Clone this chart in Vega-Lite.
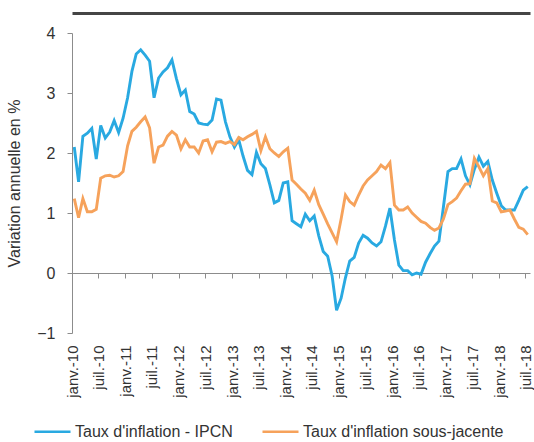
{
  "$schema": "https://vega.github.io/schema/vega-lite/v6.json",
  "width": 458,
  "height": 300,
  "autosize": "none",
  "padding": {"left": 72, "top": 33, "right": 4, "bottom": 109},
  "background": "white",
  "config": {"view": {"stroke": null}, "font": "Liberation Sans"},
  "data": {"values": [
    {"month": "2010-01", "ipcn": 2.10, "sj": 1.24},
    {"month": "2010-02", "ipcn": 1.52, "sj": 0.92},
    {"month": "2010-03", "ipcn": 2.28, "sj": 1.24},
    {"month": "2010-04", "ipcn": 2.33, "sj": 1.02},
    {"month": "2010-05", "ipcn": 2.41, "sj": 1.02},
    {"month": "2010-06", "ipcn": 1.90, "sj": 1.06},
    {"month": "2010-07", "ipcn": 2.46, "sj": 1.58},
    {"month": "2010-08", "ipcn": 2.25, "sj": 1.62},
    {"month": "2010-09", "ipcn": 2.35, "sj": 1.63},
    {"month": "2010-10", "ipcn": 2.54, "sj": 1.60},
    {"month": "2010-11", "ipcn": 2.34, "sj": 1.62},
    {"month": "2010-12", "ipcn": 2.58, "sj": 1.69},
    {"month": "2011-01", "ipcn": 2.92, "sj": 2.12},
    {"month": "2011-02", "ipcn": 3.36, "sj": 2.36},
    {"month": "2011-03", "ipcn": 3.65, "sj": 2.43},
    {"month": "2011-04", "ipcn": 3.72, "sj": 2.52},
    {"month": "2011-05", "ipcn": 3.63, "sj": 2.60},
    {"month": "2011-06", "ipcn": 3.53, "sj": 2.42},
    {"month": "2011-07", "ipcn": 2.92, "sj": 1.83},
    {"month": "2011-08", "ipcn": 3.25, "sj": 2.10},
    {"month": "2011-09", "ipcn": 3.35, "sj": 2.13},
    {"month": "2011-10", "ipcn": 3.42, "sj": 2.28},
    {"month": "2011-11", "ipcn": 3.55, "sj": 2.36},
    {"month": "2011-12", "ipcn": 3.24, "sj": 2.30},
    {"month": "2012-01", "ipcn": 2.97, "sj": 2.07},
    {"month": "2012-02", "ipcn": 3.05, "sj": 2.22},
    {"month": "2012-03", "ipcn": 2.69, "sj": 2.10},
    {"month": "2012-04", "ipcn": 2.65, "sj": 2.10},
    {"month": "2012-05", "ipcn": 2.50, "sj": 2.00},
    {"month": "2012-06", "ipcn": 2.48, "sj": 2.20},
    {"month": "2012-07", "ipcn": 2.47, "sj": 2.22},
    {"month": "2012-08", "ipcn": 2.55, "sj": 2.02},
    {"month": "2012-09", "ipcn": 2.90, "sj": 2.18},
    {"month": "2012-10", "ipcn": 2.88, "sj": 2.19},
    {"month": "2012-11", "ipcn": 2.52, "sj": 2.16},
    {"month": "2012-12", "ipcn": 2.27, "sj": 2.19},
    {"month": "2013-01", "ipcn": 2.10, "sj": 2.14},
    {"month": "2013-02", "ipcn": 2.22, "sj": 2.26},
    {"month": "2013-03", "ipcn": 1.95, "sj": 2.22},
    {"month": "2013-04", "ipcn": 1.71, "sj": 2.27},
    {"month": "2013-05", "ipcn": 1.64, "sj": 2.31},
    {"month": "2013-06", "ipcn": 2.01, "sj": 2.36},
    {"month": "2013-07", "ipcn": 1.82, "sj": 2.04},
    {"month": "2013-08", "ipcn": 1.74, "sj": 2.27},
    {"month": "2013-09", "ipcn": 1.47, "sj": 2.07},
    {"month": "2013-10", "ipcn": 1.17, "sj": 2.00},
    {"month": "2013-11", "ipcn": 1.21, "sj": 1.94},
    {"month": "2013-12", "ipcn": 1.50, "sj": 2.02},
    {"month": "2014-01", "ipcn": 1.52, "sj": 2.08},
    {"month": "2014-02", "ipcn": 0.87, "sj": 1.55},
    {"month": "2014-03", "ipcn": 0.82, "sj": 1.48},
    {"month": "2014-04", "ipcn": 0.77, "sj": 1.40},
    {"month": "2014-05", "ipcn": 0.98, "sj": 1.33},
    {"month": "2014-06", "ipcn": 0.87, "sj": 1.21},
    {"month": "2014-07", "ipcn": 0.95, "sj": 1.38},
    {"month": "2014-08", "ipcn": 0.62, "sj": 1.14},
    {"month": "2014-09", "ipcn": 0.36, "sj": 0.98},
    {"month": "2014-10", "ipcn": 0.28, "sj": 0.82},
    {"month": "2014-11", "ipcn": -0.05, "sj": 0.67},
    {"month": "2014-12", "ipcn": -0.62, "sj": 0.52},
    {"month": "2015-01", "ipcn": -0.42, "sj": 0.90},
    {"month": "2015-02", "ipcn": -0.08, "sj": 1.30},
    {"month": "2015-03", "ipcn": 0.20, "sj": 1.19},
    {"month": "2015-04", "ipcn": 0.26, "sj": 1.13},
    {"month": "2015-05", "ipcn": 0.50, "sj": 1.30},
    {"month": "2015-06", "ipcn": 0.63, "sj": 1.45},
    {"month": "2015-07", "ipcn": 0.58, "sj": 1.55},
    {"month": "2015-08", "ipcn": 0.50, "sj": 1.62},
    {"month": "2015-09", "ipcn": 0.45, "sj": 1.69},
    {"month": "2015-10", "ipcn": 0.52, "sj": 1.80},
    {"month": "2015-11", "ipcn": 0.78, "sj": 1.74},
    {"month": "2015-12", "ipcn": 1.08, "sj": 1.84},
    {"month": "2016-01", "ipcn": 0.55, "sj": 1.13},
    {"month": "2016-02", "ipcn": 0.13, "sj": 1.05},
    {"month": "2016-03", "ipcn": 0.04, "sj": 1.05},
    {"month": "2016-04", "ipcn": 0.04, "sj": 1.10},
    {"month": "2016-05", "ipcn": -0.03, "sj": 1.00},
    {"month": "2016-06", "ipcn": 0.00, "sj": 0.93},
    {"month": "2016-07", "ipcn": -0.02, "sj": 0.86},
    {"month": "2016-08", "ipcn": 0.18, "sj": 0.83},
    {"month": "2016-09", "ipcn": 0.32, "sj": 0.76},
    {"month": "2016-10", "ipcn": 0.45, "sj": 0.71},
    {"month": "2016-11", "ipcn": 0.53, "sj": 0.75},
    {"month": "2016-12", "ipcn": 1.10, "sj": 0.90},
    {"month": "2017-01", "ipcn": 1.69, "sj": 1.14},
    {"month": "2017-02", "ipcn": 1.74, "sj": 1.19},
    {"month": "2017-03", "ipcn": 1.74, "sj": 1.25},
    {"month": "2017-04", "ipcn": 1.90, "sj": 1.37},
    {"month": "2017-05", "ipcn": 1.62, "sj": 1.48},
    {"month": "2017-06", "ipcn": 1.47, "sj": 1.49},
    {"month": "2017-07", "ipcn": 1.73, "sj": 1.91},
    {"month": "2017-08", "ipcn": 1.93, "sj": 1.77},
    {"month": "2017-09", "ipcn": 1.78, "sj": 1.62},
    {"month": "2017-10", "ipcn": 1.86, "sj": 1.74},
    {"month": "2017-11", "ipcn": 1.55, "sj": 1.20},
    {"month": "2017-12", "ipcn": 1.33, "sj": 1.17},
    {"month": "2018-01", "ipcn": 1.12, "sj": 1.02},
    {"month": "2018-02", "ipcn": 1.05, "sj": 1.03},
    {"month": "2018-03", "ipcn": 1.05, "sj": 1.05},
    {"month": "2018-04", "ipcn": 1.05, "sj": 0.90},
    {"month": "2018-05", "ipcn": 1.21, "sj": 0.76},
    {"month": "2018-06", "ipcn": 1.38, "sj": 0.73},
    {"month": "2018-07", "ipcn": 1.44, "sj": 0.64}
  ]},
  "resolve": {"axis": {"x": "independent"}},
  "layer": [
    {
      "mark": {"type": "line", "strokeWidth": 2.9},
      "encoding": {
        "x": {
          "field": "month", "type": "temporal", "timeUnit": "utcyearmonth", "bandPosition": 0.5,
          "scale": {"type": "utc", "nice": false, "domain": [{"year": 2010, "month": 1, "date": 1, "utc": true}, {"year": 2018, "month": 8, "date": 1, "utc": true}]},
          "axis": {
            "orient": "bottom", "offset": -60, "title": null, "grid": false,
            "domainColor": "#8c8c8c", "tickColor": "#8c8c8c", "tickSize": 5,
            "tickCount": {"interval": "month", "step": 6},
            "labelExpr": "(utcmonth(datum.value) == 0 ? 'janv.-' : 'juil.-') + utcFormat(datum.value, '%y')",
            "labelAngle": -90, "labelAlign": "right", "labelBaseline": "middle",
            "labelPadding": 67, "labelFontSize": 15, "labelColor": "#333333",
            "labelOverlap": false, "labelFlush": false
          }
        },
        "y": {
          "field": "ipcn", "type": "quantitative",
          "scale": {"domain": [-1, 4], "nice": false},
          "axis": {
            "title": "Variation annuelle en %", "titleFontSize": 16, "titleFontWeight": "normal", "titleColor": "#333333", "titlePadding": 14,
            "values": [-1, 0, 1, 2, 3, 4], "grid": false,
            "domainColor": "#8c8c8c", "tickColor": "#8c8c8c", "tickSize": 5,
            "labelFontSize": 16, "labelColor": "#333333", "labelPadding": 12
          }
        },
        "color": {
          "datum": "Taux d'inflation - IPCN",
          "scale": {"domain": ["Taux d'inflation - IPCN", "Taux d'inflation sous-jacente"], "range": ["#29a9e1", "#f6a25b"]},
          "legend": {
            "orient": "none", "legendX": -39, "legendY": 379, "direction": "horizontal", "title": null,
            "symbolType": "stroke", "symbolSize": 1296, "symbolStrokeWidth": 2.5,
            "labelFontSize": 16, "labelColor": "#333333", "labelOffset": 3, "labelLimit": 400, "columnPadding": 24
          }
        }
      }
    },
    {
      "mark": {"type": "line", "strokeWidth": 2.9},
      "encoding": {
        "x": {
          "field": "month", "type": "temporal", "timeUnit": "utcyearmonth", "bandPosition": 0.5,
          "axis": {"orient": "top", "offset": 20, "title": null, "grid": false, "labels": false, "ticks": false, "domainWidth": 3, "domainColor": "#454545"}
        },
        "y": {
          "field": "sj", "type": "quantitative",
          "axis": {
            "title": "Variation annuelle en %", "titleFontSize": 16, "titleFontWeight": "normal", "titleColor": "#333333", "titlePadding": 14,
            "values": [-1, 0, 1, 2, 3, 4], "grid": false,
            "domainColor": "#8c8c8c", "tickColor": "#8c8c8c", "tickSize": 5,
            "labelFontSize": 16, "labelColor": "#333333", "labelPadding": 12
          }
        },
        "color": {"datum": "Taux d'inflation sous-jacente"}
      }
    }
  ]
}
